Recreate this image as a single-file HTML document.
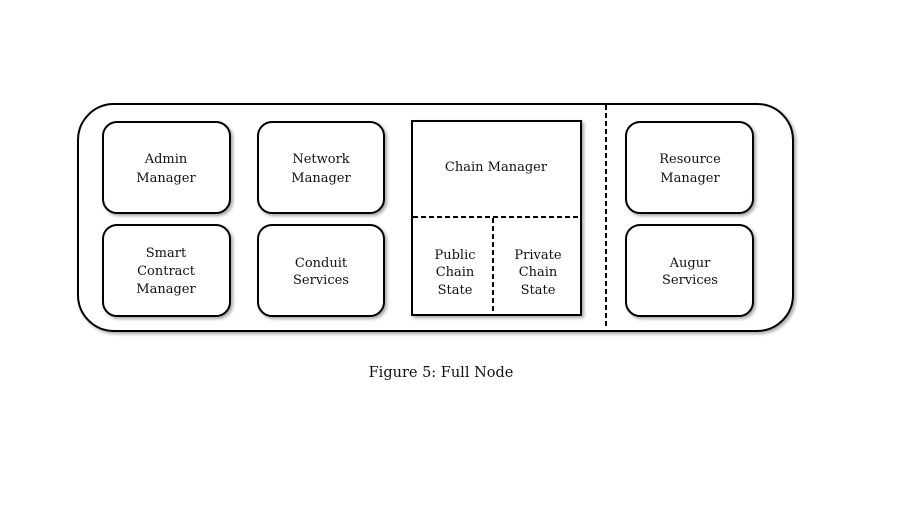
<!DOCTYPE html>
<html><head><meta charset="utf-8"><style>
html,body{margin:0;padding:0;background:#fff;}
svg text{font-family:"DejaVu Serif","Liberation Serif",serif;font-size:13px;fill:#111;text-anchor:middle;}
</style></head><body>
<svg width="900" height="500" viewBox="0 0 900 500" xmlns="http://www.w3.org/2000/svg">
<defs><filter id="sh" x="-10%" y="-10%" width="130%" height="130%"><feGaussianBlur in="SourceAlpha" stdDeviation="1.5"/><feOffset dx="2" dy="2"/><feComponentTransfer><feFuncA type="linear" slope="0.35"/></feComponentTransfer><feMerge><feMergeNode/><feMergeNode in="SourceGraphic"/></feMerge></filter></defs>
<rect x="78" y="104" width="715" height="227" rx="36" fill="#fff" stroke="#000" stroke-width="2" filter="url(#sh)"/>
<g fill="#fff" stroke="#000" stroke-width="2" filter="url(#sh)">
<rect x="103" y="122" width="127" height="91" rx="14"/>
<rect x="258" y="122" width="126" height="91" rx="14"/>
<rect x="103" y="225" width="127" height="91" rx="14"/>
<rect x="258" y="225" width="126" height="91" rx="14"/>
<rect x="626" y="122" width="127" height="91" rx="14"/>
<rect x="626" y="225" width="127" height="91" rx="14"/>
<rect x="412" y="121" width="169" height="194"/>
</g>
<g stroke="#000" stroke-width="2" stroke-dasharray="5,3">
<line x1="413" y1="217" x2="580" y2="217"/>
<line x1="493" y1="218" x2="493" y2="314"/>
<line x1="606" y1="105" x2="606" y2="327"/>
</g>
<text x="166" y="163">Admin</text><text x="166" y="182">Manager</text>
<text x="321" y="163">Network</text><text x="321" y="182">Manager</text>
<text x="166" y="257">Smart</text><text x="166" y="275">Contract</text><text x="166" y="293">Manager</text>
<text x="321" y="267">Conduit</text><text x="321" y="284">Services</text>
<text x="496" y="171">Chain Manager</text>
<text x="455" y="259">Public</text><text x="455" y="276">Chain</text><text x="455" y="294">State</text>
<text x="538" y="259">Private</text><text x="538" y="276">Chain</text><text x="538" y="294">State</text>
<text x="690" y="163">Resource</text><text x="690" y="182">Manager</text>
<text x="690" y="267">Augur</text><text x="690" y="284">Services</text>
<text x="441" y="377" style="font-size:14.5px">Figure 5: Full Node</text>
</svg>
</body></html>
